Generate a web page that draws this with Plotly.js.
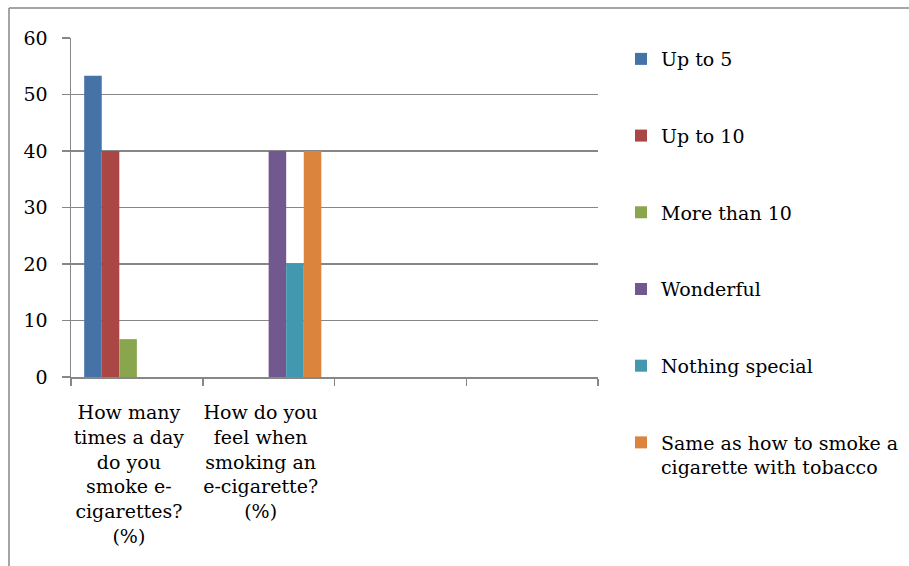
<!DOCTYPE html>
<html>
<head>
<meta charset="utf-8">
<script src="https://cdn.plot.ly/plotly-3.0.1.min.js"></script>
<style>
html, body { margin: 0; padding: 0; background: #fff; }
#chart { width: 909px; height: 566px; }
</style>
</head>
<body>
<div id="chart"></div>
<script>
var categories = [
  "How many<br>times a day<br>do you<br>smoke e-<br>cigarettes?<br>(%)",
  "How do you<br>feel when<br>smoking an<br>e-cigarette?<br>(%)",
  " ",
  "  "
];
var seriesNames = ["Up to 5", "Up to 10", "More than 10", "Wonderful", "Nothing special", "Same as how to smoke a<br>cigarette with tobacco"];
var upTo5 = [53.3, null, null, null];
var upTo10 = [40, null, null, null];
var moreThan10 = [6.7, null, null, null];
var wonderful = [null, 40, null, null];
var nothingSpecial = [null, 20, null, null];
var sameAsTobacco = [null, 40, null, null];
var yTicks = [0, 10, 20, 30, 40, 50, 60];

var seriesValues = [upTo5, upTo10, moreThan10, wonderful, nothingSpecial, sameAsTobacco];
var colors = ["#4572A7", "#AA4643", "#89A54E", "#71588F", "#4198AF", "#DB843D"];

var traces = seriesValues.map(function (vals, i) {
  return {
    type: "bar",
    x: categories,
    y: vals,
    name: seriesNames[i],
    legendgroup: "g" + i,
    marker: { color: colors[i], line: { width: 0 } },
    hoverinfo: "skip"
  };
});

var serif = "DejaVu Serif";
var gray = "#878787";

var layout = {
  width: 909,
  height: 566,
  margin: { l: 71, r: 311, t: 38, b: 189, autoexpand: false },
  paper_bgcolor: "#fff",
  plot_bgcolor: "#fff",
  barmode: "group",
  bargap: 0.2,
  bargroupgap: 0,
  font: { family: serif, size: 19, color: "#000" },
  showlegend: true,
  legend: {
    x: 1.0436, xanchor: "left",
    y: 0.994, yanchor: "top",
    traceorder: "grouped",
    tracegroupgap: 49,
    valign: "top",
    maxheight: 800,
    font: { family: serif, size: 19, color: "#000" },
    bgcolor: "rgba(0,0,0,0)"
  },
  xaxis: {
    type: "category",
    categoryorder: "array",
    categoryarray: categories,
    range: [-0.5, 3.5],
    tickson: "boundaries",
    ticks: "outside",
    ticklen: 7,
    tickwidth: 1.5,
    tickcolor: gray,
    showline: true,
    linecolor: gray,
    linewidth: 1.5,
    showgrid: false,
    zeroline: false,
    ticklabelstandoff: 18,
    ticklabelshift: -8,
    tickfont: { family: serif, size: 19, color: "#000" },
    fixedrange: true
  },
  yaxis: {
    range: [0, 60],
    tickvals: yTicks,
    ticktext: yTicks.map(String),
    ticks: "outside",
    ticklen: 8,
    tickwidth: 1.5,
    tickcolor: gray,
    showline: true,
    linecolor: gray,
    linewidth: 1.5,
    showgrid: true,
    gridcolor: gray,
    gridwidth: 1.5,
    zeroline: false,
    ticklabelstandoff: 10,
    tickfont: { family: serif, size: 19, color: "#000" },
    fixedrange: true
  },
  shapes: [
    { type: "line", xref: "paper", yref: "paper", x0: (9 - 71) / 527, x1: (915 - 71) / 527, y0: (377 - 8) / 339, y1: (377 - 8) / 339, line: { color: gray, width: 1.5 } },
    { type: "line", xref: "paper", yref: "paper", x0: (9 - 71) / 527, x1: (9 - 71) / 527, y0: (377 - 8) / 339, y1: (377 - 570) / 339, line: { color: gray, width: 1.5 } }
  ]
};

Plotly.newPlot("chart", traces, layout, { displayModeBar: false, staticPlot: true });
</script>
</body>
</html>
